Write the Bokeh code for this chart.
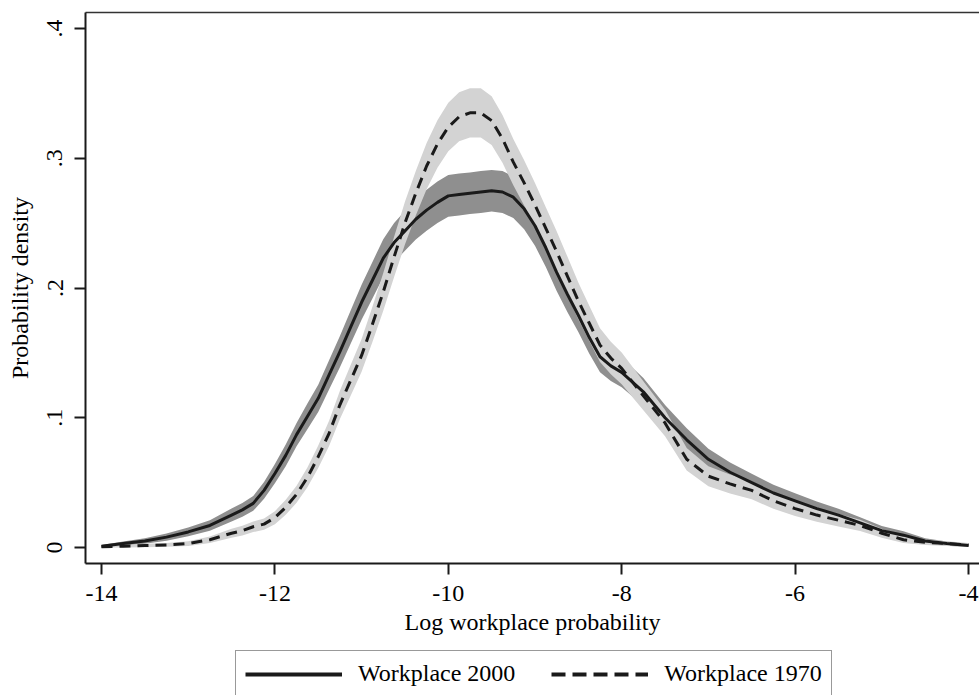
from bokeh.plotting import figure
from bokeh.layouts import column
from bokeh.models import (ColumnDataSource, FixedTicker, LinearAxis, Legend,
                          LegendItem, Range1d)
from bokeh.embed import file_html
from bokeh.resources import INLINE

# ---------------- data ----------------
x_grid = [-14.0, -13.75, -13.5, -13.25, -13.0, -12.75, -12.5,
          -12.375, -12.25, -12.125, -12.0, -11.875, -11.75, -11.625, -11.5,
          -11.375, -11.25, -11.125, -11.0, -10.875, -10.75, -10.625, -10.5,
          -10.375, -10.25, -10.125, -10.0, -9.875, -9.75, -9.625, -9.5,
          -9.375, -9.25, -9.125, -9.0, -8.875, -8.75, -8.625, -8.5,
          -8.375, -8.25, -8.125, -8.0,
          -7.75, -7.5, -7.25, -7.0, -6.75, -6.5, -6.25, -6.0, -5.75, -5.5,
          -5.25, -5.0, -4.75, -4.5, -4.25, -4.0]

dens_2000 = [0.001, 0.003, 0.005, 0.008, 0.012, 0.017, 0.025,
             0.029, 0.034, 0.044, 0.057, 0.071, 0.087, 0.101, 0.115,
             0.133, 0.151, 0.170, 0.189, 0.206, 0.223, 0.235, 0.244,
             0.253, 0.260, 0.266, 0.271, 0.272, 0.273, 0.274, 0.275,
             0.274, 0.270, 0.261, 0.248, 0.231, 0.212, 0.195, 0.179,
             0.162, 0.147, 0.140, 0.135,
             0.120, 0.100, 0.083, 0.068, 0.058, 0.050, 0.042, 0.036, 0.030, 0.025,
             0.019, 0.013, 0.0095, 0.005, 0.003, 0.0015]
lo_2000 = [0.000, 0.0013, 0.0028, 0.0052, 0.0086, 0.013, 0.020,
           0.0237, 0.0283, 0.0375, 0.0496, 0.0627, 0.078, 0.0911, 0.1045,
           0.1217, 0.139, 0.1572, 0.1755, 0.1919, 0.2084, 0.2200, 0.2287,
           0.2374, 0.2442, 0.2500, 0.255, 0.2558, 0.257, 0.2578, 0.259,
           0.2578, 0.254, 0.2452, 0.2326, 0.2161, 0.1977, 0.1813, 0.166,
           0.1495, 0.1351, 0.1284, 0.1236,
           0.1093, 0.0902, 0.0741, 0.0599, 0.0505, 0.0431, 0.0356, 0.0301, 0.0246, 0.0201,
           0.0147, 0.0095, 0.0065, 0.0028, 0.0013, 0.0003]
hi_2000 = [0.002, 0.0047, 0.0072, 0.0108, 0.0154, 0.021, 0.030,
           0.0343, 0.0397, 0.0505, 0.0644, 0.0793, 0.096, 0.1109, 0.1255,
           0.1443, 0.163, 0.1828, 0.2025, 0.2201, 0.2376, 0.2500, 0.2593,
           0.2686, 0.2758, 0.2820, 0.287, 0.2882, 0.289, 0.2902, 0.291,
           0.2902, 0.286, 0.2768, 0.2634, 0.2459, 0.2263, 0.2087, 0.192,
           0.1745, 0.1589, 0.1516, 0.1464,
           0.1307, 0.1098, 0.0919, 0.0761, 0.0655, 0.0569, 0.0484, 0.0419, 0.0354, 0.0299,
           0.0233, 0.0165, 0.0125, 0.0072, 0.0047, 0.0027]

dens_1970 = [0.0005, 0.001, 0.0015, 0.002, 0.003, 0.006, 0.011,
             0.013, 0.016, 0.018, 0.023, 0.031, 0.041, 0.054, 0.070,
             0.088, 0.110, 0.129, 0.148, 0.172, 0.197, 0.224, 0.250,
             0.273, 0.294, 0.311, 0.324, 0.332, 0.335, 0.335, 0.329,
             0.315, 0.297, 0.281, 0.264, 0.246, 0.228, 0.209, 0.190,
             0.173, 0.156, 0.146, 0.138,
             0.117, 0.096, 0.068, 0.055, 0.049, 0.044, 0.036, 0.030, 0.025, 0.021,
             0.017, 0.011, 0.006, 0.004, 0.003, 0.002]
lo_1970 = [0.000, 0.000, 0.0002, 0.0005, 0.0012, 0.0035, 0.0076,
           0.0093, 0.0119, 0.0136, 0.018, 0.0252, 0.0344, 0.0464, 0.0613,
           0.0783, 0.0991, 0.1172, 0.1354, 0.1584, 0.1824, 0.2085, 0.2336,
           0.2559, 0.2762, 0.2927, 0.3053, 0.3131, 0.316, 0.316, 0.3102,
           0.2966, 0.2791, 0.2636, 0.2471, 0.2297, 0.2123, 0.1940, 0.1757,
           0.1594, 0.143, 0.1335, 0.1258,
           0.1058, 0.0858, 0.0594, 0.0473, 0.0417, 0.0371, 0.0298, 0.0243, 0.0198, 0.0162,
           0.0127, 0.0076, 0.0035, 0.0019, 0.0012, 0.0005]
hi_1970 = [0.0012, 0.002, 0.0028, 0.0035, 0.0048, 0.0085, 0.0144,
           0.0167, 0.0201, 0.0224, 0.028, 0.0368, 0.0476, 0.0616, 0.0787,
           0.0977, 0.1209, 0.1408, 0.1606, 0.1856, 0.2116, 0.2395, 0.2664,
           0.2901, 0.3118, 0.3293, 0.3427, 0.3509, 0.354, 0.354, 0.3478,
           0.3334, 0.3149, 0.2984, 0.2809, 0.2623, 0.2437, 0.2240, 0.2043,
           0.1866, 0.169, 0.1585, 0.1502,
           0.1282, 0.1062, 0.0766, 0.0627, 0.0563, 0.0509, 0.0422, 0.0357, 0.0302, 0.0258,
           0.0213, 0.0144, 0.0085, 0.0061, 0.0048, 0.0035]

series_labels = ["Workplace 2000", "Workplace 1970"]
x_ticks = [-14, -12, -10, -8, -6, -4]
x_tick_labels = ["-14", "-12", "-10", "-8", "-6", "-4"]
y_ticks = [0, 0.1, 0.2, 0.3, 0.4]
y_tick_labels = ["0", ".1", ".2", ".3", ".4"]
x_title = "Log workplace probability"
y_title = "Probability density"

# ---------------- main figure ----------------
FONT = "Liberation Serif"
FS = "24px"
INK = "#1a1a1a"
H1 = 648

p = figure(width=979, height=H1, output_backend="svg", toolbar_location=None,
           x_range=Range1d(-14.1845, -3.873), y_range=Range1d(-0.01233, 0.41233),
           min_border_left=85, min_border_right=0, min_border_top=12,
           min_border_bottom=H1 - 563, x_axis_label=x_title, y_axis_label=y_title)
p.outline_line_color = None
p.grid.visible = False
p.background_fill_color = "white"
p.border_fill_color = "white"

src = ColumnDataSource(dict(x=x_grid, d00=dens_2000, lo00=lo_2000, hi00=hi_2000,
                            d70=dens_1970, lo70=lo_1970, hi70=hi_1970))

p.varea(x="x", y1="lo00", y2="hi00", source=src, fill_color="#8f8f8f", fill_alpha=1)
p.varea(x="x", y1="lo70", y2="hi70", source=src, fill_color="#d3d3d3", fill_alpha=1)
p.line(x="x", y="d00", source=src, line_color=INK, line_width=3, line_join="round")
p.line(x="x", y="d70", source=src, line_color=INK, line_width=3,
       line_dash="11 7", line_join="round")

for ax in (p.xaxis[0], p.yaxis[0]):
    ax.axis_line_width = 2
    ax.axis_line_color = INK
    ax.major_tick_line_width = 2
    ax.major_tick_line_color = INK
    ax.major_tick_out = 11
    ax.major_tick_in = 0
    ax.minor_tick_line_color = None
    ax.major_label_text_font = FONT
    ax.major_label_text_font_size = FS
    ax.major_label_text_color = "black"
    ax.axis_label_text_font = FONT
    ax.axis_label_text_font_size = FS
    ax.axis_label_text_font_style = "normal"
    ax.axis_label_text_color = "black"

p.xaxis[0].ticker = FixedTicker(ticks=x_ticks)
p.xaxis[0].major_label_overrides = dict(zip(x_ticks, x_tick_labels))
p.xaxis[0].major_label_standoff = 11
p.xaxis[0].axis_label_standoff = 5
p.yaxis[0].ticker = FixedTicker(ticks=y_ticks)
p.yaxis[0].major_label_overrides = dict(zip(y_ticks, y_tick_labels))
p.yaxis[0].major_label_orientation = "vertical"
p.yaxis[0].major_label_standoff = 12
p.yaxis[0].axis_label_standoff = 12

top_axis = LinearAxis(ticker=FixedTicker(ticks=[]), major_label_text_font_size="0px",
                      axis_line_width=1.5, axis_line_color="#333333",
                      major_tick_line_color=None, minor_tick_line_color=None)
p.add_layout(top_axis, "above")

# ---------------- legend strip ----------------
H2 = 695 - H1
q = figure(width=979, height=H2, output_backend="svg", toolbar_location=None,
           x_range=Range1d(0, 1), y_range=Range1d(0, 1),
           x_axis_type=None, y_axis_type=None,
           min_border_left=0, min_border_right=0, min_border_top=0,
           min_border_bottom=0)
q.outline_line_color = None
q.grid.visible = False
q.border_fill_color = "white"
# legend keys: same series, drawn outside this strip's visible range
k00 = q.line(x="x", y="d00", source=src, line_color=INK, line_width=4)
k70 = q.line(x="x", y="d70", source=src, line_color=INK, line_width=4,
             line_dash="14 7")
legend = Legend(items=[LegendItem(label=series_labels[0], renderers=[k00]),
                       LegendItem(label=series_labels[1], renderers=[k70])],
                orientation="horizontal", location=(150, -2),
                glyph_width=97, glyph_height=20, label_standoff=16, spacing=36,
                padding=9, margin=0, border_line_color="#333333",
                border_line_width=1.5, background_fill_color="white",
                background_fill_alpha=1, label_text_font=FONT,
                label_text_font_size=FS, label_text_color="black")
q.add_layout(legend, "center")

layout = column(p, q, spacing=0)
open("out.html", "w").write(file_html(layout, INLINE))
